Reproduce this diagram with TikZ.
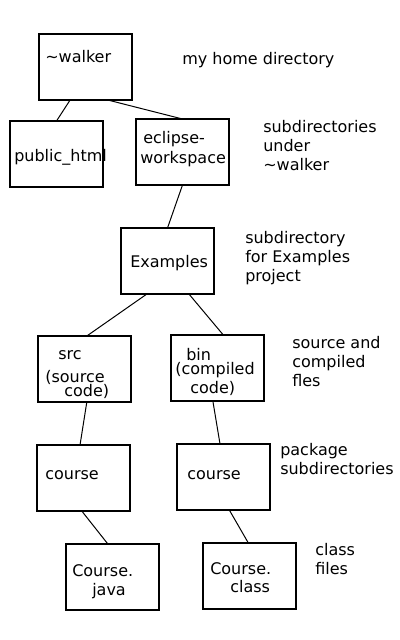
\documentclass[tikz,border=0pt]{standalone}
\usepackage{fontspec}
\setmainfont{DejaVu Sans}

\begin{document}
\begin{tikzpicture}[x=0.75pt, y=-0.75pt,
  dirBox/.style={draw, line width=0.8pt, minimum width=69.75pt, minimum height=49.5pt, inner sep=0pt, outer sep=0pt},
  boxText/.style={anchor=base west, inner sep=0pt, align=left, font=\fontsize{12}{14.25}\selectfont},
  noteText/.style={boxText},
  treeLine/.style={line width=0.75pt}]
  \useasboundingbox (0,0) rectangle (400,640);
  % directories
  \node[dirBox] (walker) at (85.5,67) {};
  \node[dirBox] (public) at (56.5,154) {};
  \node[dirBox] (eclipse) at (182.5,152) {};
  \node[dirBox] (examples) at (167.5,261) {};
  \node[dirBox] (src) at (84.5,369) {};
  \node[dirBox] (bin) at (217.5,368) {};
  \node[dirBox] (srcCourse) at (83.5,478) {};
  \node[dirBox] (binCourse) at (223.5,477) {};
  \node[dirBox] (javaFile) at (112.5,577) {};
  \node[dirBox] (classFile) at (249.5,576) {};
  % names in the boxes (base = last line)
  \node[boxText] (walkerName) at (45,62) {\textasciitilde walker};
  \node[boxText] (publicName) at (14,161) {public\_html};
  \node[boxText] (eclipseName) at (143,163) {eclipse-\\[0.75pt]\hspace*{-2.25pt}workspace};
  \node[boxText] (examplesName) at (130,267) {Examples};
  \node[boxText] (srcName) at (58,396) {src\\[3pt]\hspace*{-9.75pt}(source\\[-3.75pt]\hspace*{4.5pt}code)};
  \node[boxText] (binName) at (186,393) {bin\\[-3.75pt]\hspace*{-8.25pt}(compiled\\\hspace*{3pt}code)};
  \node[boxText] (srcCourseName) at (45,479) {course};
  \node[boxText] (binCourseName) at (187,479) {course};
  \node[boxText] (javaName) at (72,595) {Course.\\\hspace*{15pt}java};
  \node[boxText] (className) at (210,592) {Course.\\[-0.75pt]\hspace*{15pt}class};
  % notes on the right
  \node[noteText] (homeNote) at (182,64) {my home directory};
  \node[noteText] (subNote) at (263,170) {subdirectories\\under\\\textasciitilde walker};
  \node[noteText] (projectNote) at (245,281) {subdirectory\\for Examples\\project};
  \node[noteText] (binNote) at (292,386) {source and\\compiled\\fles};
  \node[noteText] (packageNote) at (280,474) {package\\subdirectories};
  \node[noteText] (fileNote) at (315,574) {class\\files};
  % tree lines
  \draw[treeLine] (walker.-115) -- (public.north);
  \draw[treeLine] (walker.-56) -- (eclipse.north);
  \draw[treeLine] (eclipse.south) -- (examples.north);
  \draw[treeLine] (examples.-122) -- (src.86);
  \draw[treeLine] (examples.-57.5) -- (bin.80.5);
  \draw[treeLine] (src.-86) -- (srcCourse.96);
  \draw[treeLine] (bin.-98) -- (binCourse.96);
  \draw[treeLine] (srcCourse.-93) -- (javaFile.98);
  \draw[treeLine] (binCourse.-80.5) -- (classFile.92);
\end{tikzpicture}
\end{document}
